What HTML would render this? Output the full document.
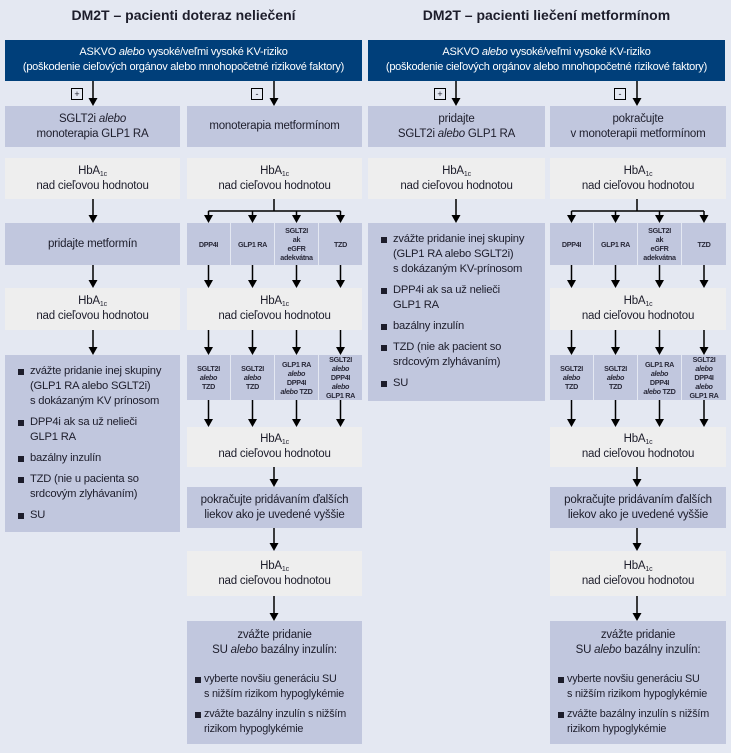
<!DOCTYPE html>
<html><head><meta charset="utf-8">
<style>
*{margin:0;padding:0;box-sizing:border-box}
body{width:731px;height:753px;background:#e4e8f2;position:relative;overflow:hidden;font-family:"Liberation Sans",sans-serif;color:#1d1d2b}
.t{position:absolute;top:7px;font-size:14px;font-weight:bold;text-align:center;width:357px}
.h{position:absolute;top:40px;height:41px;width:357px;background:#003f7a;color:#fff;font-size:11px;line-height:15px;text-align:center;padding-top:5px;letter-spacing:-0.25px}
.b,.g{position:absolute;display:flex;align-items:center;justify-content:center;text-align:center;font-size:11.5px;line-height:15px;letter-spacing:-0.2px}
.b{background:#c1c7de}
.g{background:#eeeeee}
.s{font-size:7.2px;line-height:9px;font-weight:bold;color:#2a2a3a;letter-spacing:-0.3px}
sub{font-size:7px;vertical-align:-2px;line-height:0}
.sign{position:absolute;width:12px;height:12px;border:1px solid #000;font-size:9px;line-height:10px;text-align:center;background:#e4e8f2}
ul{list-style:none;text-align:left;font-size:11.2px;line-height:15px;letter-spacing:-0.2px}
li{position:relative;padding-left:13px;margin-bottom:6px}
li:before{content:"";position:absolute;left:1px;top:5px;width:6px;height:6px;background:#1d1d2b}
.z li{padding-left:9px;margin-bottom:5px;font-size:10.8px}
.z li:before{left:0}
svg{position:absolute;left:0;top:0}
</style></head><body>

<div class="t" style="left:5px">DM2T – pacienti doteraz neliečení</div>
<div class="t" style="left:368px">DM2T – pacienti liečení metformínom</div>

<div class="h" style="left:5px">ASKVO <i>alebo</i> vysoké/veľmi vysoké KV-riziko<br>(poškodenie cieľových orgánov alebo mnohopočetné rizikové faktory)</div>
<div class="h" style="left:368px">ASKVO <i>alebo</i> vysoké/veľmi vysoké KV-riziko<br>(poškodenie cieľových orgánov alebo mnohopočetné rizikové faktory)</div>

<div class="sign" style="left:71px;top:88px">+</div>
<div class="sign" style="left:251px;top:88px">-</div>
<div class="sign" style="left:434px;top:88px">+</div>
<div class="sign" style="left:614px;top:88px">-</div>

<!-- LEFT PANEL -->
<div class="b" style="left:5px;top:106px;width:175px;height:41px"><div>SGLT2i <i>alebo</i><br>monoterapia GLP1 RA</div></div>
<div class="b" style="left:187px;top:106px;width:175px;height:41px"><div>monoterapia metformínom</div></div>
<div class="g" style="left:5px;top:158px;width:175px;height:41px"><div>HbA<sub>1c</sub><br>nad cieľovou hodnotou</div></div>
<div class="g" style="left:187px;top:158px;width:175px;height:41px"><div>HbA<sub>1c</sub><br>nad cieľovou hodnotou</div></div>
<div class="b" style="left:5px;top:223px;width:175px;height:42px"><div>pridajte metformín</div></div>
<div class="b s" style="left:187px;top:223px;width:43px;height:42px"><div>DPP4I</div></div>
<div class="b s" style="left:231px;top:223px;width:43px;height:42px"><div>GLP1 RA</div></div>
<div class="b s" style="left:275px;top:223px;width:43px;height:42px"><div>SGLT2I<br>ak<br>eGFR<br>adekvátna</div></div>
<div class="b s" style="left:319px;top:223px;width:43px;height:42px"><div>TZD</div></div>
<div class="g" style="left:5px;top:288px;width:175px;height:42px"><div>HbA<sub>1c</sub><br>nad cieľovou hodnotou</div></div>
<div class="g" style="left:187px;top:288px;width:175px;height:42px"><div>HbA<sub>1c</sub><br>nad cieľovou hodnotou</div></div>
<div class="b" style="left:5px;top:355px;width:175px;height:177px;align-items:flex-start;justify-content:flex-start;padding:9px 0 0 12px">
<ul><li>zvážte pridanie inej skupiny<br>(GLP1 RA alebo SGLT2i)<br>s dokázaným KV prínosom</li><li>DPP4i ak sa už nelieči<br>GLP1 RA</li><li>bazálny inzulín</li><li>TZD (nie u pacienta so<br>srdcovým zlyhávaním)</li><li>SU</li></ul></div>
<div class="b s" style="left:187px;top:355px;width:43px;height:45px"><div>SGLT2I<br><i>alebo</i><br>TZD</div></div>
<div class="b s" style="left:231px;top:355px;width:43px;height:45px"><div>SGLT2I<br><i>alebo</i><br>TZD</div></div>
<div class="b s" style="left:275px;top:355px;width:43px;height:45px"><div>GLP1 RA<br><i>alebo</i><br>DPP4I<br><i>alebo</i> TZD</div></div>
<div class="b s" style="left:319px;top:355px;width:43px;height:45px"><div>SGLT2I<br><i>alebo</i><br>DPP4I<br><i>alebo</i><br>GLP1 RA</div></div>
<div class="g" style="left:187px;top:427px;width:175px;height:40px"><div>HbA<sub>1c</sub><br>nad cieľovou hodnotou</div></div>
<div class="b" style="left:187px;top:487px;width:175px;height:41px"><div>pokračujte pridávaním ďalších<br>liekov ako je uvedené vyššie</div></div>
<div class="g" style="left:187px;top:551px;width:175px;height:45px"><div>HbA<sub>1c</sub><br>nad cieľovou hodnotou</div></div>
<div class="b z" style="left:187px;top:621px;width:175px;height:123px;display:block;padding:7px 0 0 8px;text-align:left">
<div style="text-align:center;padding-right:8px;margin-bottom:14px">zvážte pridanie<br>SU <i>alebo</i> bazálny inzulín:</div>
<ul><li>vyberte novšiu generáciu SU<br>s nižším rizikom hypoglykémie</li><li>zvážte bazálny inzulín s nižším<br>rizikom hypoglykémie</li></ul></div>

<!-- RIGHT PANEL -->
<div class="b" style="left:368px;top:106px;width:177px;height:41px"><div>pridajte<br>SGLT2i <i>alebo</i> GLP1 RA</div></div>
<div class="b" style="left:550px;top:106px;width:176px;height:41px"><div>pokračujte<br>v monoterapii metformínom</div></div>
<div class="g" style="left:368px;top:158px;width:177px;height:41px"><div>HbA<sub>1c</sub><br>nad cieľovou hodnotou</div></div>
<div class="g" style="left:550px;top:158px;width:176px;height:41px"><div>HbA<sub>1c</sub><br>nad cieľovou hodnotou</div></div>
<div class="b" style="left:368px;top:223px;width:177px;height:178px;align-items:flex-start;justify-content:flex-start;padding:9px 0 0 12px">
<ul><li>zvážte pridanie inej skupiny<br>(GLP1 RA alebo SGLT2i)<br>s dokázaným KV-prínosom</li><li>DPP4i ak sa už nelieči<br>GLP1 RA</li><li>bazálny inzulín</li><li>TZD (nie ak pacient so<br>srdcovým zlyhávaním)</li><li>SU</li></ul></div>
<div class="b s" style="left:550px;top:223px;width:43px;height:42px"><div>DPP4I</div></div>
<div class="b s" style="left:594px;top:223px;width:43px;height:42px"><div>GLP1 RA</div></div>
<div class="b s" style="left:638px;top:223px;width:43px;height:42px"><div>SGLT2I<br>ak<br>eGFR<br>adekvátna</div></div>
<div class="b s" style="left:682px;top:223px;width:44px;height:42px"><div>TZD</div></div>
<div class="g" style="left:550px;top:288px;width:176px;height:42px"><div>HbA<sub>1c</sub><br>nad cieľovou hodnotou</div></div>
<div class="b s" style="left:550px;top:355px;width:43px;height:45px"><div>SGLT2I<br><i>alebo</i><br>TZD</div></div>
<div class="b s" style="left:594px;top:355px;width:43px;height:45px"><div>SGLT2I<br><i>alebo</i><br>TZD</div></div>
<div class="b s" style="left:638px;top:355px;width:43px;height:45px"><div>GLP1 RA<br><i>alebo</i><br>DPP4I<br><i>alebo</i> TZD</div></div>
<div class="b s" style="left:682px;top:355px;width:44px;height:45px"><div>SGLT2I<br><i>alebo</i><br>DPP4I<br><i>alebo</i><br>GLP1 RA</div></div>
<div class="g" style="left:550px;top:427px;width:176px;height:40px"><div>HbA<sub>1c</sub><br>nad cieľovou hodnotou</div></div>
<div class="b" style="left:550px;top:487px;width:176px;height:41px"><div>pokračujte pridávaním ďalších<br>liekov ako je uvedené vyššie</div></div>
<div class="g" style="left:550px;top:551px;width:176px;height:45px"><div>HbA<sub>1c</sub><br>nad cieľovou hodnotou</div></div>
<div class="b z" style="left:550px;top:621px;width:176px;height:123px;display:block;padding:7px 0 0 8px;text-align:left">
<div style="text-align:center;padding-right:8px;margin-bottom:14px">zvážte pridanie<br>SU <i>alebo</i> bazálny inzulín:</div>
<ul><li>vyberte novšiu generáciu SU<br>s nižším rizikom hypoglykémie</li><li>zvážte bazálny inzulín s nižším<br>rizikom hypoglykémie</li></ul></div>

<svg width="731" height="753" id="s"></svg>
<script>
var s=document.getElementById('s'),o='';
function a(x,y1,y2){o+='<line x1="'+x+'" y1="'+y1+'" x2="'+x+'" y2="'+(y2-6)+'" stroke="#000" stroke-width="1.5"/><polygon points="'+(x-4.5)+','+(y2-8)+' '+(x+4.5)+','+(y2-8)+' '+x+','+y2+'" fill="#000"/>';}
function l(x1,y1,x2,y2){o+='<line x1="'+x1+'" y1="'+y1+'" x2="'+x2+'" y2="'+y2+'" stroke="#000" stroke-width="1.5"/>';}
function col(dx,L,R,left){
 a(L,81,106);a(R,81,106);
 a(L,199,223);
 l(R,199,R,211);l(dx[0],211,dx[3],211);
 dx.forEach(function(x){a(x,211,223);a(x,265,288);a(x,330,355);a(x,400,427);});
 if(left){a(L,265,288);a(L,330,355);}
 a(R,467,487);a(R,528,551);a(R,596,621);
}
col([208.5,252.5,296.5,340.5],93,274,true);
col([571.5,615.5,659.5,704],456,637,false);
s.innerHTML=o;
</script>
</body></html>
